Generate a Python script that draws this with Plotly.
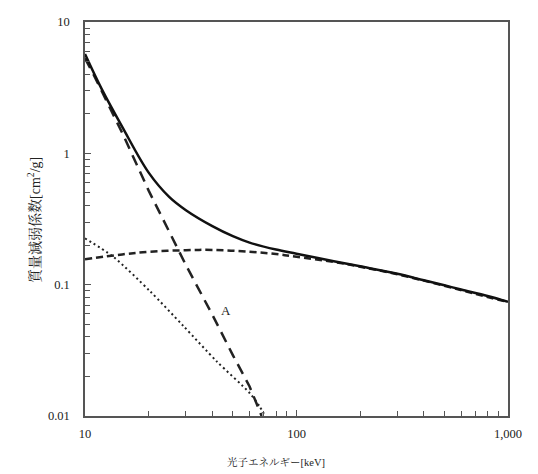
import plotly.graph_objects as go

# Total attenuation (solid)
total_E = [10, 12, 15, 20, 25, 30, 40, 50, 60, 80, 100, 150, 200, 300, 400, 500, 600, 800, 1000]
total_mu = [5.7, 3.08, 1.59, 0.713, 0.466, 0.369, 0.279, 0.234, 0.209, 0.185, 0.172, 0.151, 0.138,
            0.121, 0.108, 0.0989, 0.0918, 0.082, 0.0741]

# Photoelectric "A" (long dashes)
photo_E = [10, 11, 15, 20, 30, 40, 50, 60, 68.4]
photo_mu = [5.3, 3.95, 1.43, 0.52, 0.141, 0.059, 0.0291, 0.0168, 0.01]

# Compton (short dashes)
compton_E = [10, 15, 20, 30, 40, 60, 80, 100, 150, 200, 300, 500, 700, 1000]
compton_mu = [0.156, 0.170, 0.178, 0.183, 0.184, 0.178, 0.171, 0.163, 0.149, 0.137, 0.120, 0.098, 0.085, 0.0738]

# Coherent (dotted)
coh_E = [10, 13.6, 20.3, 29.2, 42, 60.3, 67.1, 71]
coh_mu = [0.225, 0.163, 0.0891, 0.0484, 0.026, 0.01486, 0.01175, 0.01]

x_ticks = [10, 100, 1000]
x_ticktext = ["10", "100", "1,000"]
y_ticks = [0.01, 0.1, 1, 10]
y_ticktext = ["0.01", "0.1", "1", "10"]

x_minor = [m * d for d in (10, 100) for m in range(2, 10)]
y_minor = [m * d for d in (0.01, 0.1, 1) for m in range(2, 10)]

FONT = "Liberation Serif, Noto Serif CJK JP, Noto Sans CJK JP, serif"
AX = "#555555"
TXT = "#222222"

fig = go.Figure()
fig.add_trace(go.Scatter(x=coh_E, y=coh_mu, mode="lines",
                         line=dict(color="#222", width=2, dash="2px,3px", shape="spline", smoothing=0.8)))
fig.add_trace(go.Scatter(x=compton_E, y=compton_mu, mode="lines",
                         line=dict(color="#222", width=2.5, dash="7px,4px", shape="spline", smoothing=1)))
fig.add_trace(go.Scatter(x=photo_E, y=photo_mu, mode="lines",
                         line=dict(color="#222", width=2.5, dash="11px,7px")))
fig.add_trace(go.Scatter(x=total_E, y=total_mu, mode="lines",
                         line=dict(color="#111", width=2.5, shape="spline", smoothing=1)))

axis_common = dict(
    type="log", showgrid=False, zeroline=False, showline=True, mirror=True,
    linecolor=AX, linewidth=1.5, ticks="inside", ticklen=6, tickcolor=AX, tickwidth=1,
    tickmode="array", tickfont=dict(family=FONT, size=12.5, color=TXT),
)

fig.update_xaxes(**axis_common, range=[1, 3], tickvals=x_ticks, ticktext=x_ticktext,
                 ticklabelstandoff=5,
                 minor=dict(tickmode="array", tickvals=x_minor, ticks="inside", ticklen=5,
                            tickcolor=AX, tickwidth=1))
fig.update_yaxes(**axis_common, range=[-2, 1], tickvals=y_ticks, ticktext=y_ticktext,
                 ticklabelstandoff=11,
                 minor=dict(tickmode="array", tickvals=y_minor, ticks="inside", ticklen=5,
                            tickcolor=AX, tickwidth=1))

L, R, T, B = 85, 30, 22, 58
W, H = 538, 474
pw, ph = W - L - R, H - T - B

fig.add_annotation(x=1.667, y=-1.193, xref="x", yref="y", text="A", showarrow=False,
                   font=dict(family=FONT, size=13, color=TXT))
fig.add_annotation(x=(276 - L) / pw, y=(H - 462 - B) / ph, xref="paper", yref="paper",
                   xanchor="center", yanchor="middle", text="光子エネルギー[keV]",
                   showarrow=False, font=dict(family=FONT, size=10.5, color=TXT))
fig.add_annotation(x=(34 - L) / pw, y=(H - 220 - B) / ph, xref="paper", yref="paper",
                   xanchor="center", yanchor="middle", text="質量減弱係数[cm<sup>2</sup>/g]",
                   showarrow=False, textangle=-90, font=dict(family=FONT, size=14, color=TXT))

fig.update_layout(
    width=W, height=H, margin=dict(l=L, r=R, t=T, b=B),
    paper_bgcolor="white", plot_bgcolor="white", showlegend=False,
    font=dict(family=FONT, color=TXT),
)

fig.write_html("out.html")
